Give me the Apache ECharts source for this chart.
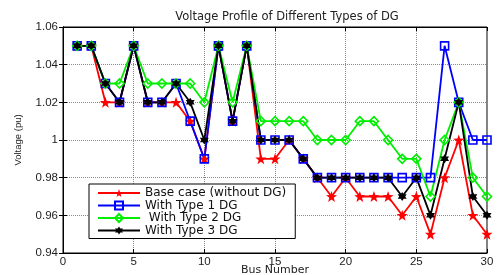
<!DOCTYPE html>
<html><head><meta charset="utf-8">
<script src="https://cdn.jsdelivr.net/npm/echarts@6/dist/echarts.min.js"></script>
<style>html,body{margin:0;padding:0;background:#fff}#c{width:499px;height:275px}</style>
</head><body><div id="c"></div>
<script>
const buses = [1,2,3,4,5,6,7,8,9,10,11,12,13,14,15,16,17,18,19,20,21,22,23,24,25,26,27,28,29,30];
const baseCase = [1.05,1.05,1.02,1.02,1.05,1.02,1.02,1.02,1.01,0.99,1.05,1.01,1.05,0.99,0.99,1.00,0.99,0.98,0.97,0.98,0.97,0.97,0.97,0.96,0.97,0.95,0.98,1.00,0.96,0.95];
const type1 = [1.05,1.05,1.03,1.02,1.05,1.02,1.02,1.03,1.01,0.99,1.05,1.01,1.05,1.00,1.00,1.00,0.99,0.98,0.98,0.98,0.98,0.98,0.98,0.98,0.98,0.98,1.05,1.02,1.00,1.00];
const type2 = [1.05,1.05,1.03,1.03,1.05,1.03,1.03,1.03,1.03,1.02,1.05,1.02,1.05,1.01,1.01,1.01,1.01,1.00,1.00,1.00,1.01,1.01,1.00,0.99,0.99,0.97,1.00,1.02,0.98,0.97];
const type3 = [1.05,1.05,1.03,1.02,1.05,1.02,1.02,1.03,1.02,1.00,1.05,1.01,1.05,1.00,1.00,1.00,0.99,0.98,0.98,0.98,0.98,0.98,0.98,0.97,0.98,0.96,0.99,1.02,0.97,0.96];
const seriesNames = ['Base case (without DG)','With Type 1 DG',' With Type 2 DG','With Type 3 DG'];
const xTicks = [0,5,10,15,20,25,30];
const yTicks = [0.94,0.96,0.98,1,1.02,1.04,1.06];

const star5 = 'path://M0,-10 L2.35,-3.24 L9.51,-3.09 L3.8,1.24 L5.88,8.09 L0,4 L-5.88,8.09 L-3.8,1.24 L-9.51,-3.09 L-2.35,-3.24 Z';
const hexa = 'path://M0,-10 L2.9,-5 L8.66,-5 L5.8,0 L8.66,5 L2.9,5 L0,10 L-2.9,5 L-8.66,5 L-5.8,0 L-8.66,-5 L-2.9,-5 Z';

function pts(arr){ return arr.map((v,i)=>[buses[i], v]); }

const chart = echarts.init(document.getElementById('c'), null, {renderer:'canvas'});
const font = 'Liberation Sans, Arial, sans-serif';
const wide = 'DejaVu Sans, sans-serif';
const axisCommon = {
  axisLine:{show:true,onZero:false,lineStyle:{color:'#000',width:1}},
  axisTick:{show:true,inside:true,length:4,lineStyle:{color:'#000'}},
  splitLine:{show:true,lineStyle:{color:'#8a8a8a',type:[1,1],width:1}}
};
chart.setOption({
  animation:false,
  backgroundColor:'#fff',
  title:{text:'Voltage Profile of Different Types of DG',left:282,top:6,textAlign:'center',
    textStyle:{fontFamily:wide,fontSize:11.5,fontWeight:'normal',color:'#222'}},
  grid:{left:63,right:12,top:27,bottom:22,show:true,borderColor:'#000',borderWidth:1,backgroundColor:'#fff',outerBoundsMode:'none',containLabel:false},
  xAxis:[{type:'value',min:0,max:30,interval:5,name:'Bus Number',nameLocation:'middle',nameGap:12,nameMoveOverlap:false,
    nameTextStyle:{fontFamily:wide,fontSize:11,color:'#222'},
    axisLabel:{fontFamily:font,fontSize:11.5,color:'#222',margin:3},...axisCommon},
    {type:'value',min:0,max:30,interval:5,position:'top',axisLabel:{show:false},
    axisLine:{show:true,lineStyle:{color:'#000'}},axisTick:{show:true,inside:true,length:4,lineStyle:{color:'#000'}},splitLine:{show:false}}],
  yAxis:[{type:'value',min:0.94,max:1.06,interval:0.02,name:'Voltage (pu)',nameLocation:'middle',nameGap:40,nameMoveOverlap:false,
    nameTextStyle:{fontFamily:'Liberation Sans Narrow, Liberation Sans, sans-serif',fontSize:9.5,color:'#222'},
    axisLabel:{fontFamily:font,fontSize:11.5,color:'#222',margin:5,formatter:v=>String(+v.toFixed(2))},...axisCommon},
    {type:'value',min:0.94,max:1.06,interval:0.02,position:'right',axisLabel:{show:false},
    axisLine:{show:true,lineStyle:{color:'#000'}},axisTick:{show:true,inside:true,length:4,lineStyle:{color:'#000'}},splitLine:{show:false}}],
  legend:{orient:'vertical',left:89,top:184,backgroundColor:'#fff',borderColor:'#000',borderWidth:1,
    padding:[3,9,2,8],itemGap:0.5,itemWidth:42,itemHeight:10,
    textStyle:{fontFamily:wide,fontSize:12,color:'#111'},
    data:seriesNames},
  series:[
    {name:seriesNames[0],type:'line',data:pts(baseCase),symbol:star5,symbolSize:11,
      lineStyle:{color:'#ff0000',width:1.8},itemStyle:{color:'#ff0000',borderColor:'#ff0000',borderWidth:0}},
    {name:seriesNames[1],type:'line',data:pts(type1),symbol:'rect',symbolSize:8,
      lineStyle:{color:'#0000ff',width:1.8},itemStyle:{color:'rgba(255,255,255,0)',borderColor:'#0000ff',borderWidth:1.6}},
    {name:seriesNames[2],type:'line',data:pts(type2),symbol:'diamond',symbolSize:9,
      lineStyle:{color:'#00ee00',width:1.8},itemStyle:{color:'rgba(255,255,255,0)',borderColor:'#00ee00',borderWidth:1.6}},
    {name:seriesNames[3],type:'line',data:pts(type3),symbol:hexa,symbolSize:9,
      lineStyle:{color:'#000',width:1.8},itemStyle:{color:'#000',borderColor:'#000',borderWidth:0}}
  ]
});
</script></body></html>
